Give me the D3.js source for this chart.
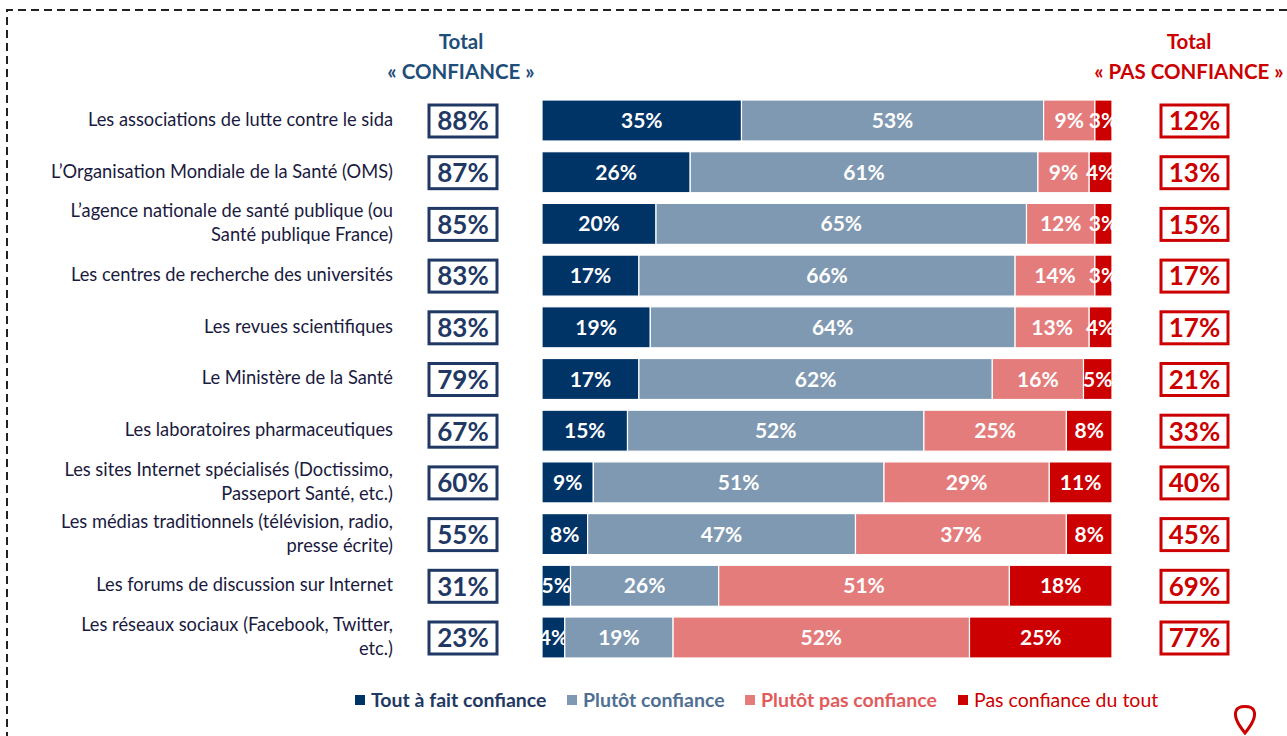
<!DOCTYPE html>
<html>
<head>
<meta charset="utf-8">
<script src="https://cdn.jsdelivr.net/npm/d3@7"></script>
<style>
  body { margin: 0; background: #fff; }
  svg { display: block; font-family: Lato, "Open Sans", sans-serif; }
</style>
</head>
<body>
<svg id="chart" width="1287" height="736"></svg>
<script>
// categories (line breaks with \n)
var categories = [
  "Les associations de lutte contre le sida",
  "L\u2019Organisation Mondiale de la Sant\u00e9 (OMS)",
  "L\u2019agence nationale de sant\u00e9 publique (ou\nSant\u00e9 publique France)",
  "Les centres de recherche des universit\u00e9s",
  "Les revues scientifiques",
  "Le Minist\u00e8re de la Sant\u00e9",
  "Les laboratoires pharmaceutiques",
  "Les sites Internet sp\u00e9cialis\u00e9s (Doctissimo,\nPasseport Sant\u00e9, etc.)",
  "Les m\u00e9dias traditionnels (t\u00e9l\u00e9vision, radio,\npresse \u00e9crite)",
  "Les forums de discussion sur Internet",
  "Les r\u00e9seaux sociaux (Facebook, Twitter,\netc.)"
];

var toutAFait   = [35, 26, 20, 17, 19, 17, 15, 9, 8, 5, 4];
var plutot      = [53, 61, 65, 66, 64, 62, 52, 51, 47, 26, 19];
var plutotPas   = [9, 9, 12, 14, 13, 16, 25, 29, 37, 51, 52];
var pasDuTout   = [3, 4, 3, 3, 4, 5, 8, 11, 8, 18, 25];

var totalConfiance    = [88, 87, 85, 83, 83, 79, 67, 60, 55, 31, 23];
var totalPasConfiance = [12, 13, 15, 17, 17, 21, 33, 40, 45, 69, 77];

var seriesNames = ["Tout \u00e0 fait confiance", "Plut\u00f4t confiance", "Plut\u00f4t pas confiance", "Pas confiance du tout"];

var barColors   = ["#003366", "#7f99b2", "#e47c7c", "#cc0000"];
var legendText  = ["#1f3864", "#4f6f93", "#e25b5b", "#cc0000"];
var navy = "#1f3864";
var red = "#cc0000";

var svg = d3.select("#chart");

// dashed frame (runs off to the right/bottom like the original crop)
svg.append("path")
    .attr("d", "M7,740 L7,10 L1300,10")
    .attr("fill", "none")
    .attr("stroke", "#222")
    .attr("stroke-width", 2)
    .attr("stroke-dasharray", "8,5");

// build the stacked table
var keys = ["a", "b", "c", "d"];
var rows = categories.map(function(c, i) {
  return { cat: c, a: toutAFait[i], b: plutot[i], c: plutotPas[i], d: pasDuTout[i] };
});
var stack = d3.stack().keys(keys)(rows);

var x = d3.scaleLinear().domain([0, 100]).range([542, 1112]);
var y = d3.scaleBand().domain(categories).range([100, 658]).paddingInner(0.207).paddingOuter(0);
var color = d3.scaleOrdinal().domain(keys).range(barColors);

// bars
var layer = svg.append("g").selectAll("g")
    .data(stack)
    .enter().append("g")
    .attr("fill", function(d) { return color(d.key); });

layer.selectAll("rect")
    .data(function(d) { return d; })
    .enter().append("rect")
    .attr("x", function(d) { return x(d[0]); })
    .attr("y", function(d) { return y(d.data.cat); })
    .attr("width", function(d) { return x(d[1]) - x(d[0]); })
    .attr("height", y.bandwidth())
    .attr("stroke", "#fff")
    .attr("stroke-width", 1.2);

// segment labels
layer.selectAll("text")
    .data(function(d) { return d; })
    .enter().append("text")
    .attr("x", function(d) { return (x(d[0]) + x(d[1])) / 2; })
    .attr("y", function(d) { return y(d.data.cat) + y.bandwidth() / 2; })
    .attr("dy", "0.36em")
    .attr("text-anchor", "middle")
    .attr("fill", "#fff")
    .style("font-size", "21px")
    .style("font-weight", "bold")
    .text(function(d) { return (d[1] - d[0]) + "%"; });

// category labels
var catLabels = svg.append("g").selectAll("text")
    .data(categories)
    .enter().append("text")
    .attr("text-anchor", "end")
    .attr("fill", "#1a1a40")
    .style("font-size", "18.3px");

catLabels.each(function(c) {
  var lines = c.split("\n");
  var cy = y(c) + y.bandwidth() / 2;
  var t = d3.select(this);
  lines.forEach(function(line, k) {
    t.append("tspan")
      .attr("x", 393)
      .attr("y", cy + (k - (lines.length - 1) / 2) * 24)
      .attr("dy", "0.3em")
      .text(line);
  });
});

// total boxes
function totals(values, x0, w, col) {
  var g = svg.append("g").selectAll("g")
      .data(values)
      .enter().append("g")
      .attr("transform", function(d, i) { return "translate(" + x0 + "," + (y(categories[i]) + 5) + ")"; });
  g.append("rect")
      .attr("width", w)
      .attr("height", y.bandwidth() - 9)
      .attr("fill", "#fff")
      .attr("stroke", col)
      .attr("stroke-width", 3);
  g.append("text")
      .attr("x", w / 2)
      .attr("y", (y.bandwidth() - 9) / 2)
      .attr("dy", "0.36em")
      .attr("text-anchor", "middle")
      .attr("fill", col)
      .style("font-size", "26px")
      .style("font-weight", "bold")
      .text(function(d) { return d + "%"; });
}
totals(totalConfiance, 429, 68, navy);
totals(totalPasConfiance, 1161, 67, red);

// column headers
function header(cx, lines, col) {
  svg.append("g").selectAll("text")
    .data(lines)
    .enter().append("text")
    .attr("x", cx)
    .attr("y", function(d, i) { return 49 + i * 30; })
    .attr("text-anchor", "middle")
    .attr("fill", col)
    .style("font-size", "20.5px")
    .style("font-weight", "bold")
    .text(function(d) { return d; });
}
header(461, ["Total", "\u00ab CONFIANCE \u00bb"], "#1f4e79");
header(1189, ["Total", "\u00ab PAS CONFIANCE \u00bb"], red);

// legend
var legendX = [355, 567, 745, 958];
var leg = svg.append("g").selectAll("g")
    .data(seriesNames)
    .enter().append("g")
    .attr("transform", function(d, i) { return "translate(" + legendX[i] + ",700)"; });
leg.append("rect")
    .attr("y", -5)
    .attr("width", 10)
    .attr("height", 10)
    .attr("fill", function(d, i) { return barColors[i]; });
leg.append("text")
    .attr("x", 16)
    .attr("dy", "0.36em")
    .attr("fill", function(d, i) { return legendText[i]; })
    .style("font-size", "19.5px")
    .style("font-weight", function(d, i) { return i < 3 ? "bold" : "normal"; })
    .text(function(d) { return d; });

// small logo mark bottom right
svg.append("path")
    .attr("d", "M1245,733 C1236,722 1234,716 1236,711 C1238,705 1252,705 1254,711 C1256,716 1254,722 1245,733 Z")
    .attr("fill", "none")
    .attr("stroke", red)
    .attr("stroke-width", 3);
</script>
</body>
</html>
